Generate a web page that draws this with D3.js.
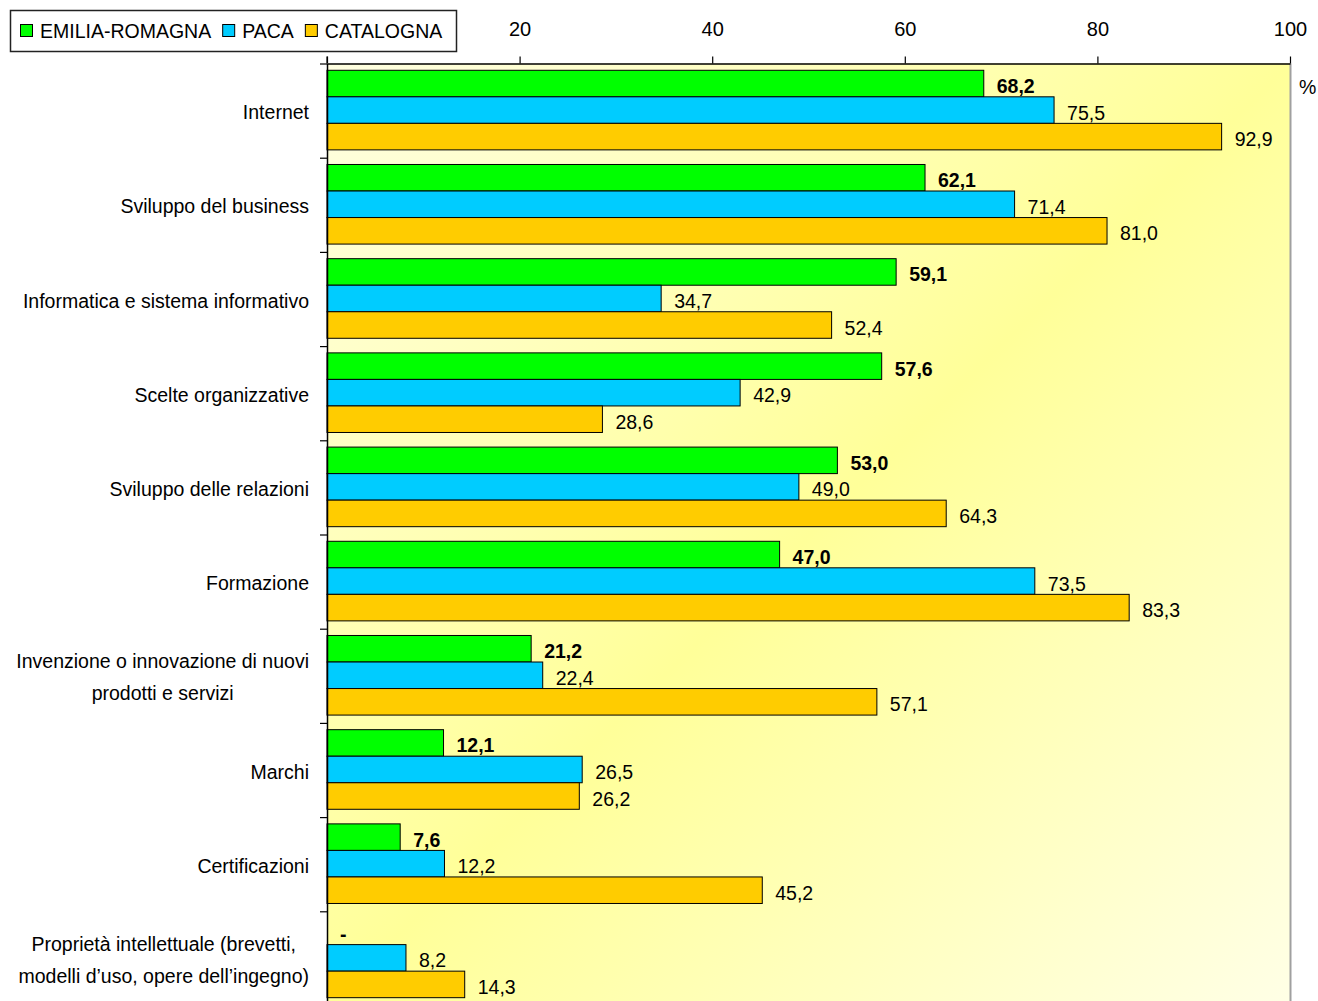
<!DOCTYPE html>
<html>
<head>
<meta charset="utf-8">
<script src="https://cdn.jsdelivr.net/npm/d3@7"></script>
<style>
  html, body { margin: 0; padding: 0; background: #fff; }
  svg { display: block; }
  text { font-family: "Liberation Sans", Arial, sans-serif; fill: #000; }
</style>
</head>
<body>
<svg id="chart" width="1318" height="1001"></svg>
<script>
// Activities (one group of bars each), top to bottom
const categories = [
  "Internet",
  "Sviluppo del business",
  "Informatica e sistema informativo",
  "Scelte organizzative",
  "Sviluppo delle relazioni",
  "Formazione",
  "Invenzione o innovazione di nuovi\nprodotti e servizi",
  "Marchi",
  "Certificazioni",
  "Proprietà intellettuale (brevetti,\nmodelli d’uso, opere dell’ingegno)"
];

const seriesNames = ["EMILIA-ROMAGNA", "PACA", "CATALOGNA"];
const seriesColors = ["#00ff00", "#00ccff", "#ffcc00"];

// Percentages per region (null = no value, shown as "-")
const emiliaRomagna = [68.2, 62.1, 59.1, 57.6, 53.0, 47.0, 21.2, 12.1, 7.6, null];
const paca          = [75.5, 71.4, 34.7, 42.9, 49.0, 73.5, 22.4, 26.5, 12.2, 8.2];
const catalogna     = [92.9, 81.0, 52.4, 28.6, 64.3, 83.3, 57.1, 26.2, 45.2, 14.3];

const xTicks = [0, 20, 40, 60, 80, 100];

const seriesValues = [emiliaRomagna, paca, catalogna];

const svg = d3.select("#chart");
const FS = 19.5;

const plot = { left: 327, right: 1290, top: 63.5, bottom: 1005.5 };

const x = d3.scaleLinear().domain([0, 100]).range([plot.left, plot.right]);
const y = d3.scaleBand().domain(d3.range(categories.length)).range([plot.top, plot.bottom]).padding(0);
const band = y.bandwidth();
const ySub = d3.scaleBand().domain(d3.range(seriesNames.length)).range([band * 0.072, band * 0.917]).padding(0);
// boundaries between groups for the left axis ticks
const yEdge = d3.scaleLinear().domain([0, categories.length]).range([plot.top, plot.bottom]);

// background gradient of the plot area
const defs = svg.append("defs");
const grad = defs.append("linearGradient").attr("id", "bg")
  .attr("x1", 0).attr("y1", 0).attr("x2", 1).attr("y2", 1);
grad.append("stop").attr("offset", 0).attr("stop-color", "#ffffe2");
grad.append("stop").attr("offset", 0.5).attr("stop-color", "#ffff99");
grad.append("stop").attr("offset", 1).attr("stop-color", "#ffffe6");

svg.append("rect")
  .attr("x", plot.left).attr("y", plot.top)
  .attr("width", plot.right - plot.left).attr("height", plot.bottom - plot.top)
  .attr("fill", "url(#bg)");
svg.append("line")
  .attr("x1", plot.right + 0.5).attr("x2", plot.right + 0.5)
  .attr("y1", plot.top).attr("y2", plot.bottom)
  .attr("stroke", "#a0a0a0").attr("stroke-width", 2);

// bars
const fmt = v => v == null ? "-" : d3.format(".1f")(v).replace(".", ",");
const groups = svg.append("g").selectAll("g")
  .data(categories.map((c, i) => i))
  .join("g")
  .attr("transform", i => `translate(0,${y(i)})`);

seriesNames.forEach((name, s) => {
  groups.append("rect")
    .attr("x", x(0))
    .attr("y", ySub(s))
    .attr("width", i => seriesValues[s][i] == null ? 0 : x(seriesValues[s][i]) - x(0))
    .attr("height", ySub.bandwidth())
    .attr("fill", seriesColors[s])
    .attr("stroke", i => seriesValues[s][i] == null ? "none" : "#000")
    .attr("stroke-width", 1);
  groups.append("text")
    .attr("x", i => x(seriesValues[s][i] == null ? 0 : seriesValues[s][i]) + 13)
    .attr("y", ySub(s) + ySub.bandwidth() / 2 + 9.5)
    .attr("font-size", FS)
    .attr("font-weight", s === 0 ? "bold" : "normal")
    .text(i => fmt(seriesValues[s][i]));
});

// top axis
const xAxis = svg.append("g")
  .attr("transform", `translate(0,${plot.top})`)
  .call(d3.axisTop(x).tickValues(xTicks).tickSize(7).tickSizeOuter(0)
    .tickFormat(d => d === 0 ? "" : d));
xAxis.attr("font-family", null).attr("font-size", null);
xAxis.select(".domain").attr("stroke", "#000").attr("stroke-width", 1.5);
xAxis.selectAll(".tick line").attr("stroke", "#000").attr("stroke-width", 1.2);
xAxis.selectAll(".tick text")
  .attr("y", -28).attr("dy", 0)
  .attr("font-size", FS + 0.5);

// "%" unit
svg.append("text")
  .attr("x", plot.right + 9).attr("y", y(0) + band * 0.28 + 4)
  .attr("font-size", FS).text("%");

// left axis with ticks at group boundaries
const yAxis = svg.append("g")
  .attr("transform", `translate(${plot.left},0)`)
  .call(d3.axisLeft(yEdge).tickValues(d3.range(categories.length + 1)).tickSize(7).tickSizeOuter(0).tickFormat(""));
yAxis.select(".domain").attr("stroke", "#000").attr("stroke-width", 1.5);
yAxis.selectAll(".tick line").attr("stroke", "#000").attr("stroke-width", 1.2);
svg.append("line")
  .attr("x1", plot.left).attr("x2", plot.left)
  .attr("y1", plot.top - 7).attr("y2", plot.top)
  .attr("stroke", "#000").attr("stroke-width", 1.2);

// category labels: block right-aligned, lines centred within the block
const labelRight = 309;
const lineGap = 31.7;
categories.forEach((cat, i) => {
  const lines = cat.split("\n");
  const cy = y(i) + band / 2 + 8.5;
  const texts = lines.map((ln, k) => svg.append("text")
    .attr("font-size", FS)
    .attr("y", cy + (k - (lines.length - 1) / 2) * lineGap)
    .text(ln));
  const widths = texts.map(t => t.node().getComputedTextLength());
  const maxW = d3.max(widths);
  const center = labelRight - maxW / 2;
  texts.forEach(t => t.attr("x", center).attr("text-anchor", "middle"));
});

// legend
const legend = svg.append("g");
legend.append("rect")
  .attr("x", 10.5).attr("y", 10.5).attr("width", 446).attr("height", 41)
  .attr("fill", "#fff").attr("stroke", "#222").attr("stroke-width", 1.5);
let lx = 20;
seriesNames.forEach((name, s) => {
  legend.append("rect")
    .attr("x", lx + 0.5).attr("y", 24.5).attr("width", 12).attr("height", 12)
    .attr("fill", seriesColors[s]).attr("stroke", "#000").attr("stroke-width", 1);
  const t = legend.append("text")
    .attr("x", lx + 20).attr("y", 37.5)
    .attr("font-size", FS)
    .text(name);
  lx += 20 + t.node().getComputedTextLength() + 11;
});
</script>
</body>
</html>
